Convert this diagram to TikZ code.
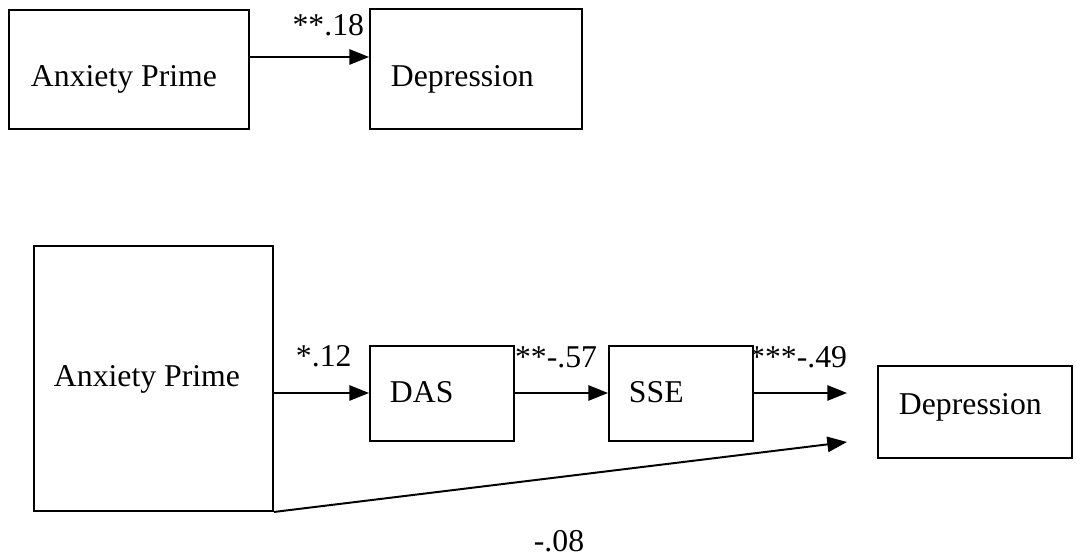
\documentclass[tikz,border=0pt]{standalone}
\usepackage{fontspec}
\setmainfont{Liberation Serif}
\usetikzlibrary{arrows.meta,positioning,calc}

\def\u{0.457pt}

\begin{document}
\begin{tikzpicture}[x=0.457pt,y=-0.457pt,->,>={Triangle[length=9pt,width=7pt]},
line width=0.9pt,font=\fontsize{14.5}{17}\selectfont]

\tikzstyle{every box}=[rectangle, draw, fill=white, inner sep=0pt, anchor=north west]
\tikzstyle{coef}=[inner sep=0pt]
\tikzstyle{boxtext}=[anchor=base west, inner sep=0pt]

\useasboundingbox (0,0) rectangle (1082,558);

%labels first, boxes cover them
\node[coef,anchor=base east] (l57) at (598,368) {***-.57};
\node[coef,anchor=base east] (l49) at (848,368) {***-.49};

%top model
\node[every box,minimum width={240*\u},minimum height={119*\u}]
(tanx) at (8,9)
{};
\node[boxtext] at ($(tanx.north west)+(22,78)$) {Anxiety Prime};

\node[every box,minimum width={212*\u},minimum height={120*\u}]
(tdep) at (369,8)
{};
\node[boxtext] at ($(tdep.north west)+(21,79)$) {Depression};

%bottom model
\node[every box,minimum width={239*\u},minimum height={265*\u}]
(banx) at (33,245)
{};
\node[boxtext] at ($(banx.north west)+(20,142)$) {Anxiety Prime};

\node[every box,minimum width={144*\u},minimum height={95*\u}]
(das) at (369,345)
{};
\node[boxtext] at ($(das.north west)+(20,58)$) {DAS};

\node[every box,minimum width={144*\u},minimum height={95*\u}]
(sse) at (608,345)
{};
\node[boxtext] at ($(sse.north west)+(20,58)$) {SSE};

\node[every box,minimum width={194*\u},minimum height={92*\u}]
(bdep) at (877,365)
{};
\node[boxtext] at ($(bdep.north west)+(21,50)$) {Depression};

\coordinate (e1) at (847,393);
\coordinate (e2) at (847,442);

\path[->] (tanx.east |- 0,57) edge (tdep.west |- 0,57);
\path[->] (banx.east |- 0,393) edge (das.west |- 0,393);
\path[->] (das.east |- 0,393) edge (sse.west |- 0,393);
\path[->] (sse.east |- 0,393) edge (e1);
\path[->] (banx.south east) edge (e2);

\node[coef,anchor=base east] at (365,36) {**.18};
\node[coef,anchor=base west] at (295,367) {*.12};
\node[coef,anchor=base] at (559,552) {-.08};

\end{tikzpicture}
\end{document}
